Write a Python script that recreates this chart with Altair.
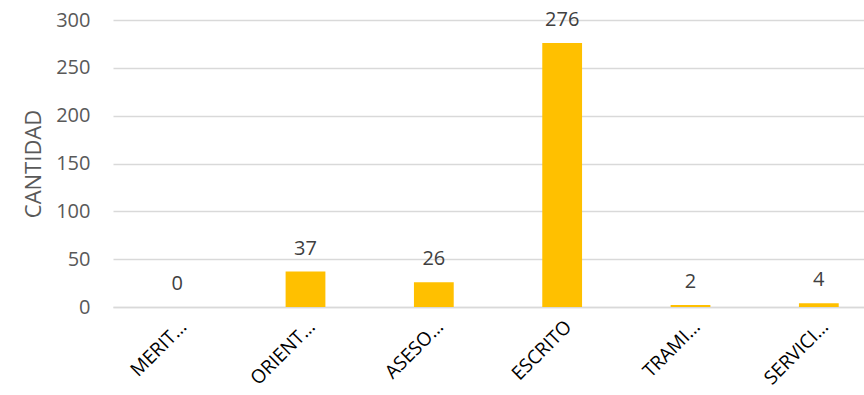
import altair as alt
import pandas as pd

categories = ["MERIT…", "ORIENT…", "ASESO…", "ESCRITO", "TRAMI…", "SERVICI…"]
values = [0, 37, 26, 276, 2, 4]

df = pd.DataFrame({"cat": categories, "val": values})

FONT = "Open Sans"

x = alt.X("cat:N", sort=categories, title=None,
          scale=alt.Scale(range=[0, 770], paddingInner=0.69, paddingOuter=0.345),
          axis=alt.Axis(labelAngle=-45, labelFontSize=19, labelColor="#000000",
                        labelFont=FONT, ticks=False, domainColor="#d9d9d9",
                        domainWidth=1.5, labelPadding=10, grid=False))
y = alt.Y("val:Q", title="CANTIDAD",
          scale=alt.Scale(domain=[0, 300], nice=False),
          axis=alt.Axis(values=[0, 50, 100, 150, 200, 250, 300], labelFontSize=20,
                        labelColor="#595959", labelFont=FONT, ticks=False, domain=False,
                        gridColor="#d9d9d9", gridWidth=1.5, labelPadding=23,
                        titleFontSize=22, titleColor="#595959", titleFont=FONT,
                        titleFontWeight="normal", titlePadding=10))

bars = alt.Chart(df).mark_bar(color="#FFC000").encode(x=x, y=y)
text = alt.Chart(df).mark_text(fontSize=20, color="#404040", font=FONT,
                               baseline="alphabetic", dy=-17).encode(
    x=alt.X("cat:N", sort=categories), y="val:Q", text="val:Q")

chart = alt.layer(bars, text).properties(
    width=751, height=287,
    autosize=alt.AutoSizeParams(type="none"),
    padding={"left": 113, "top": 20, "right": 0, "bottom": 88},
).configure_view(stroke=None)

chart.save("out.html", embed_options={"renderer": "svg", "actions": False})
